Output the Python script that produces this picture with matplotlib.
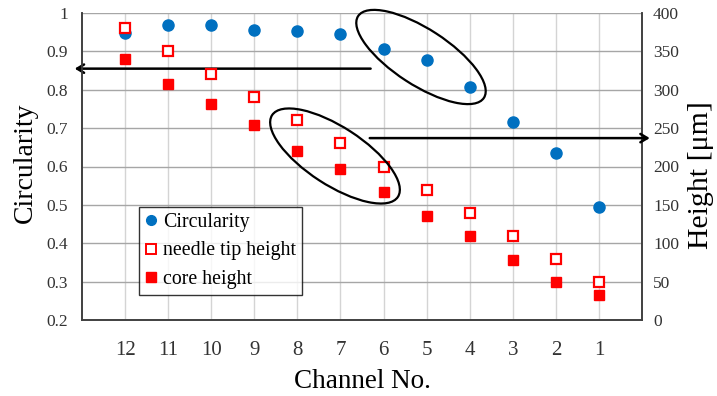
import matplotlib
matplotlib.use("Agg")
import matplotlib.pyplot as plt
from matplotlib.patches import Ellipse
from matplotlib.lines import Line2D

plt.rcParams['font.family'] = ['Liberation Serif', 'DejaVu Serif']

channels = ['12', '11', '10', '9', '8', '7', '6', '5', '4', '3', '2', '1']
circularity = [0.947, 0.970, 0.968, 0.957, 0.953, 0.946, 0.906, 0.878, 0.806, 0.716, 0.634, 0.495]
needle_tip_height = [380, 350, 320, 290, 260, 230, 200, 170, 140, 110, 80, 50]
core_height = [340, 307, 282, 254, 220, 197, 167, 136, 110, 78, 50, 32]

left_ticks = [0.2, 0.3, 0.4, 0.5, 0.6, 0.7, 0.8, 0.9, 1.0]
left_tick_labels = ['0.2', '0.3', '0.4', '0.5', '0.6', '0.7', '0.8', '0.9', '1']
right_ticks = [0, 50, 100, 150, 200, 250, 300, 350, 400]

fig = plt.figure(figsize=(7.17, 3.96), dpi=100)
ax = fig.add_axes([82/717, 76/396, 560/717, 307/396])
ax2 = ax.twinx()

xpos = list(range(1, len(channels) + 1))
blue = '#0070C0'
red = '#FF0000'
tick_col = '#333333'

ax.plot(xpos, circularity, 'o', color=blue, markersize=8, zorder=3, clip_on=False)
ax.set_xlim(0, 13)
ax.set_ylim(0.2, 1.0)
ax.set_yticks(left_ticks)
ax.set_yticklabels(left_tick_labels)
ax.set_xticks(xpos)
ax.set_xticklabels(channels)

ax2.plot(xpos, needle_tip_height, 's', markerfacecolor='white', markeredgecolor=red,
         markeredgewidth=1.6, markersize=7, zorder=4, clip_on=False)
ax2.plot(xpos, core_height, 's', color=red, markersize=7, zorder=4, clip_on=False)
ax2.set_ylim(0, 400)
ax2.set_yticks(right_ticks)

# grid
for y in left_ticks[1:]:
    ax.axhline(y, color='#a6a6a6', lw=1.0, zorder=1)
for x in xpos:
    ax.axvline(x, color='#d4d4d4', lw=1.0, zorder=0.9)

for a in (ax, ax2):
    a.tick_params(length=0)
    for s in a.spines.values():
        s.set_color('#404040')
        s.set_linewidth(1.2)
    a.spines['top'].set_visible(False)

ax.tick_params(axis='y', labelsize=12.5, pad=10, labelcolor=tick_col)
ax.tick_params(axis='x', labelsize=15, pad=15, labelcolor=tick_col)
ax2.tick_params(axis='y', labelsize=12.5, pad=8, labelcolor=tick_col)

ax.set_ylabel('Circularity', fontsize=20, va='center', ha='center')
ax.yaxis.set_label_coords((25-82)/560, (320-163)/307)
ax.set_xlabel('Channel No.', fontsize=19.5, va='center', ha='center')
ax.xaxis.set_label_coords(0.5, (320-382)/307)
ax2.set_ylabel('Height [μm]', fontsize=21.5, va='center', ha='center')
ax2.yaxis.set_label_coords((701-82)/560, (320-175)/307)

# arrows
ax.annotate('', xy=(-0.17, 0.855), xytext=(6.7, 0.855), xycoords='data',
            arrowprops=dict(arrowstyle='->,head_length=0.5,head_width=0.3', lw=1.8, color='black',
                            shrinkA=0, shrinkB=0), annotation_clip=False, zorder=5)
ax2.annotate('', xy=(13.18, 237), xytext=(6.68, 237), xycoords='data',
             arrowprops=dict(arrowstyle='->,head_length=0.5,head_width=0.3', lw=1.8, color='black',
                             shrinkA=0, shrinkB=0), annotation_clip=False, zorder=5)

# ellipses (pixel geometry)
e1 = Ellipse((421/100, (396-57)/100), 150/100, 56/100, angle=-33, fill=False,
             edgecolor='black', lw=1.6, transform=fig.dpi_scale_trans, zorder=6)
e2 = Ellipse((335/100, (396-156)/100), 150/100, 58/100, angle=-33, fill=False,
             edgecolor='black', lw=1.6, transform=fig.dpi_scale_trans, zorder=6)
fig.add_artist(e1)
fig.add_artist(e2)

handles = [
    Line2D([], [], linestyle='none', marker='o', color=blue, markersize=7),
    Line2D([], [], linestyle='none', marker='s', markerfacecolor='white', markeredgecolor=red,
           markeredgewidth=1.4, markersize=7),
    Line2D([], [], linestyle='none', marker='s', color=red, markersize=7),
]
leg = ax2.legend(handles, ['Circularity', 'needle tip height', 'core height'],
                 loc='upper left', bbox_to_anchor=((139-82)/560, (320-207)/307),
                 fontsize=14.3, frameon=True, fancybox=False, edgecolor='black',
                 handlelength=0.6, handletextpad=0.3, borderpad=0.3, labelspacing=0.48,
                 borderaxespad=0)
leg.get_frame().set_linewidth(1.0)
leg.set_zorder(10)

fig.savefig('out.png', dpi=100)
